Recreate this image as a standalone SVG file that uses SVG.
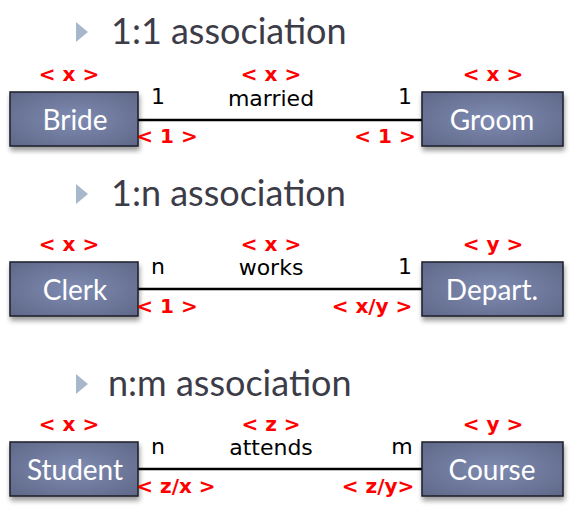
<svg xmlns="http://www.w3.org/2000/svg" width="575" height="522" viewBox="0 0 575 522">
<defs>
<radialGradient id="bg" cx="50%" cy="50%" r="70%">
<stop offset="0" stop-color="#7f8bb2"/>
<stop offset="1" stop-color="#5f6888"/>
</radialGradient>
<filter id="sh" x="-10%" y="-10%" width="120%" height="140%">
<feGaussianBlur in="SourceAlpha" stdDeviation="2.5"/>
<feOffset dx="1" dy="4"/>
<feComponentTransfer><feFuncA type="linear" slope="0.4"/></feComponentTransfer>
<feMerge><feMergeNode/><feMergeNode in="SourceGraphic"/></feMerge>
</filter>
</defs>
<style>
.box{fill:url(#bg);stroke:#1e1e28;stroke-width:1.5;filter:url(#sh)}
.bt{font-family:Lato,"Open Sans",sans-serif;font-size:28px;fill:#fff;text-anchor:middle}
.title{font-family:Lato,"Open Sans",sans-serif;font-size:36px;fill:#3c3c48}
.tri{fill:#a8b8cc}
.red{font-family:"DejaVu Sans",sans-serif;font-weight:bold;font-size:20px;fill:#ff0000;text-anchor:middle}
.lbl{font-family:"DejaVu Sans",sans-serif;font-size:22px;fill:#000;text-anchor:middle}
.ln{stroke:#000;stroke-width:2.5;fill:none}
</style>

<g id="titles">
<polygon class="tri" points="76,22 88,32 76,42"/>
<text class="title" x="111" y="44">1:1 association</text>
<polygon class="tri" points="76,184 88,194 76,204"/>
<text class="title" x="111" y="206">1:n association</text>
<polygon class="tri" points="76,374 88,384 76,394"/>
<text class="title" x="108" y="396">n:m association</text>
</g>

<g id="connectors">
<line class="ln" x1="138" y1="120" x2="422" y2="120"/>
<line class="ln" x1="138" y1="289" x2="422" y2="289"/>
<line class="ln" x1="138" y1="469" x2="422" y2="469"/>
</g>

<g id="bride">
<rect class="box" x="10" y="92" width="128" height="54"/>
<text class="bt" x="75" y="130">Bride</text>
<text class="red" x="69" y="81">&lt; x &gt;</text>
</g>
<g id="groom">
<rect class="box" x="422" y="92" width="141" height="54"/>
<text class="bt" x="492" y="130">Groom</text>
<text class="red" x="493" y="81">&lt; x &gt;</text>
</g>
<g id="married">
<text class="red" x="271" y="81">&lt; x &gt;</text>
<text class="lbl" x="271" y="106">married</text>
<text class="lbl" x="158" y="104">1</text>
<text class="lbl" x="405" y="104">1</text>
<text class="red" x="167" y="143">&lt; 1 &gt;</text>
<text class="red" x="385" y="143">&lt; 1 &gt;</text>
</g>

<g id="clerk">
<rect class="box" x="10" y="262" width="128" height="54"/>
<text class="bt" x="75" y="300">Clerk</text>
<text class="red" x="69" y="251">&lt; x &gt;</text>
</g>
<g id="depart">
<rect class="box" x="422" y="262" width="141" height="54"/>
<text class="bt" x="492" y="300">Depart.</text>
<text class="red" x="493" y="251">&lt; y &gt;</text>
</g>
<g id="works">
<text class="red" x="271" y="251">&lt; x &gt;</text>
<text class="lbl" x="271" y="275">works</text>
<text class="lbl" x="158" y="274">n</text>
<text class="lbl" x="405" y="274">1</text>
<text class="red" x="167" y="313">&lt; 1 &gt;</text>
<text class="red" x="372" y="313">&lt; x/y &gt;</text>
</g>

<g id="student">
<rect class="box" x="10" y="442" width="128" height="54"/>
<text class="bt" x="75" y="480">Student</text>
<text class="red" x="69" y="431">&lt; x &gt;</text>
</g>
<g id="course">
<rect class="box" x="422" y="442" width="141" height="54"/>
<text class="bt" x="492" y="480">Course</text>
<text class="red" x="493" y="431">&lt; y &gt;</text>
</g>
<g id="attends">
<text class="red" x="271" y="431">&lt; z &gt;</text>
<text class="lbl" x="271" y="455">attends</text>
<text class="lbl" x="158" y="454">n</text>
<text class="lbl" x="402" y="454">m</text>
<text class="red" x="176" y="493">&lt; z/x &gt;</text>
<text class="red" x="378" y="493">&lt; z/y&gt;</text>
</g>
</svg>
